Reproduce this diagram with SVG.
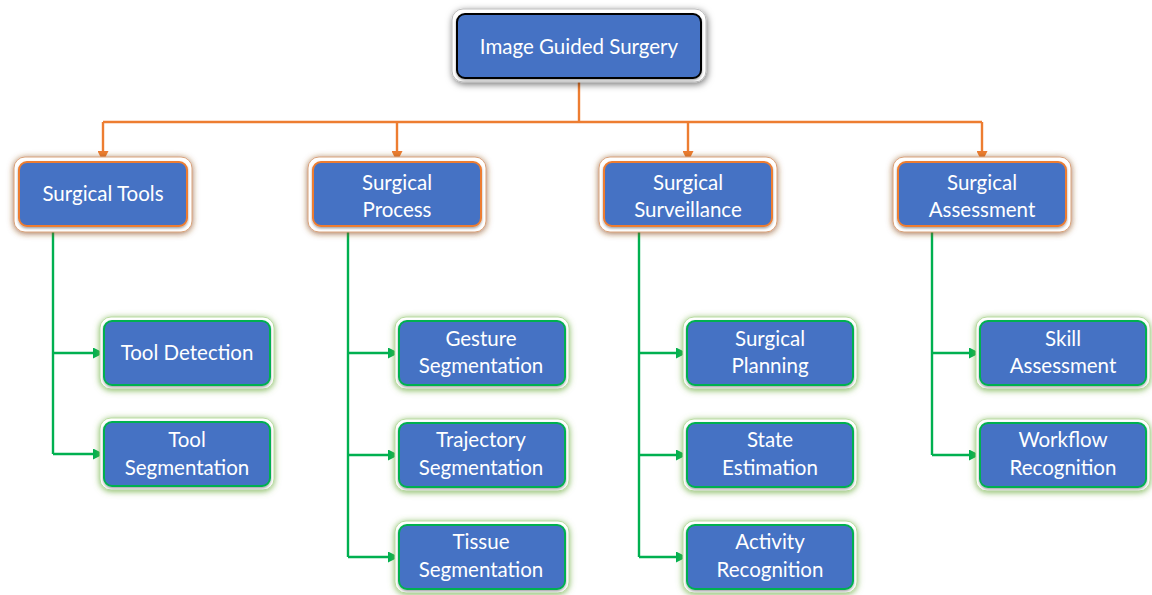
<svg xmlns="http://www.w3.org/2000/svg" width="1152" height="595" viewBox="0 0 1152 595">
  <defs>
    <filter id="shRoot" x="-20%" y="-30%" width="140%" height="160%">
      <feDropShadow dx="1" dy="2" stdDeviation="3.5" flood-color="#000" flood-opacity="0.55"/>
    </filter>
    <filter id="shMid" x="-20%" y="-30%" width="140%" height="160%">
      <feDropShadow dx="0" dy="1" stdDeviation="3" flood-color="#8a4a1f" flood-opacity="0.8"/>
    </filter>
    <filter id="shLeaf" x="-20%" y="-30%" width="140%" height="160%">
      <feDropShadow dx="0" dy="1" stdDeviation="3" flood-color="#6fae3f" flood-opacity="0.85"/>
    </filter>
    <filter id="inner" x="-10%" y="-10%" width="120%" height="130%">
      <feDropShadow dx="0" dy="1.5" stdDeviation="1.2" flood-color="#000" flood-opacity="0.35"/>
    </filter>
    <marker id="arrO" viewBox="0 0 10 10" refX="10" refY="5" markerWidth="11" markerHeight="11" markerUnits="userSpaceOnUse" orient="auto">
      <path d="M0,0 L10,5 L0,10 z" fill="#ED7D31"/>
    </marker>
    <marker id="arrG" viewBox="0 0 10 10" refX="10" refY="5" markerWidth="11" markerHeight="11" markerUnits="userSpaceOnUse" orient="auto">
      <path d="M0,0 L10,5 L0,10 z" fill="#00B050"/>
    </marker>
  </defs>
  <style>
    .frame { fill: #fff; }
    .root-in { fill: #4472C4; stroke: #000; stroke-width: 2; }
    .mid-out { stroke: #d9a27a; stroke-width: 1; }
    .mid-in { fill: #4472C4; stroke: #ED7D31; stroke-width: 2; }
    .leaf-out { stroke: #b9dca0; stroke-width: 1; }
    .leaf-in { fill: #4472C4; stroke: #00B050; stroke-width: 2; }
    text { font-family: Lato, "Open Sans", "Liberation Sans", sans-serif; font-size: 20.5px; fill: #fff; text-anchor: middle; }
    .orange { fill: none; stroke: #ED7D31; stroke-width: 2.4; }
    .green { fill: none; stroke: #00B050; stroke-width: 2.4; }
  </style>

  <!-- connectors -->
  <g id="connectors">
    <path class="orange" d="M579,80 V122 M103,122 H982"/>
    <path class="orange" d="M103,122 V162" marker-end="url(#arrO)"/>
    <path class="orange" d="M397,122 V162" marker-end="url(#arrO)"/>
    <path class="orange" d="M688,122 V162" marker-end="url(#arrO)"/>
    <path class="orange" d="M982,122 V162" marker-end="url(#arrO)"/>

    <path class="green" d="M53,230 V454"/>
    <path class="green" d="M53,353 H104" marker-end="url(#arrG)"/>
    <path class="green" d="M53,454 H104" marker-end="url(#arrG)"/>

    <path class="green" d="M348,230 V557"/>
    <path class="green" d="M348,353 H399" marker-end="url(#arrG)"/>
    <path class="green" d="M348,455 H399" marker-end="url(#arrG)"/>
    <path class="green" d="M348,557 H399" marker-end="url(#arrG)"/>

    <path class="green" d="M639,230 V557"/>
    <path class="green" d="M639,353 H687" marker-end="url(#arrG)"/>
    <path class="green" d="M639,455 H687" marker-end="url(#arrG)"/>
    <path class="green" d="M639,557 H687" marker-end="url(#arrG)"/>

    <path class="green" d="M932,230 V455"/>
    <path class="green" d="M932,353 H980" marker-end="url(#arrG)"/>
    <path class="green" d="M932,455 H980" marker-end="url(#arrG)"/>
  </g>

  <!-- root -->
  <g id="image-guided-surgery">
    <rect class="frame" x="452" y="9" width="254" height="73" rx="11" filter="url(#shRoot)" stroke="#bbb" stroke-width="1"/>
    <rect class="root-in" x="457" y="14" width="244" height="64" rx="8" filter="url(#inner)"/>
    <text x="579" y="54">Image Guided Surgery</text>
  </g>

  <!-- level 1 -->
  <g id="surgical-tools">
    <rect class="frame mid-out" x="14" y="157" width="178" height="75" rx="11" filter="url(#shMid)"/>
    <rect class="mid-in" x="19" y="162" width="168" height="64" rx="8" filter="url(#inner)"/>
    <text x="103" y="201">Surgical Tools</text>
  </g>
  <g id="surgical-process">
    <rect class="frame mid-out" x="308" y="157" width="178" height="75" rx="11" filter="url(#shMid)"/>
    <rect class="mid-in" x="313" y="162" width="168" height="64" rx="8" filter="url(#inner)"/>
    <text x="397" y="190">Surgical</text>
    <text x="397" y="217">Process</text>
  </g>
  <g id="surgical-surveillance">
    <rect class="frame mid-out" x="599" y="157" width="178" height="75" rx="11" filter="url(#shMid)"/>
    <rect class="mid-in" x="604" y="162" width="168" height="64" rx="8" filter="url(#inner)"/>
    <text x="688" y="190">Surgical</text>
    <text x="688" y="217">Surveillance</text>
  </g>
  <g id="surgical-assessment">
    <rect class="frame mid-out" x="893" y="157" width="178" height="75" rx="11" filter="url(#shMid)"/>
    <rect class="mid-in" x="898" y="162" width="168" height="64" rx="8" filter="url(#inner)"/>
    <text x="982" y="190">Surgical</text>
    <text x="982" y="217">Assessment</text>
  </g>

  <!-- level 2: tools -->
  <g id="tool-detection">
    <rect class="frame leaf-out" x="100" y="317" width="174" height="72" rx="11" filter="url(#shLeaf)"/>
    <rect class="leaf-in" x="104" y="321" width="166" height="64" rx="8" filter="url(#inner)"/>
    <text x="187" y="360">Tool Detection</text>
  </g>
  <g id="tool-segmentation">
    <rect class="frame leaf-out" x="100" y="418" width="174" height="72" rx="11" filter="url(#shLeaf)"/>
    <rect class="leaf-in" x="104" y="422" width="166" height="64" rx="8" filter="url(#inner)"/>
    <text x="187" y="447">Tool</text>
    <text x="187" y="475">Segmentation</text>
  </g>

  <!-- level 2: process -->
  <g id="gesture-segmentation">
    <rect class="frame leaf-out" x="395" y="317" width="174" height="72" rx="11" filter="url(#shLeaf)"/>
    <rect class="leaf-in" x="399" y="321" width="166" height="64" rx="8" filter="url(#inner)"/>
    <text x="481" y="346">Gesture</text>
    <text x="481" y="373">Segmentation</text>
  </g>
  <g id="trajectory-segmentation">
    <rect class="frame leaf-out" x="395" y="419" width="174" height="72" rx="11" filter="url(#shLeaf)"/>
    <rect class="leaf-in" x="399" y="423" width="166" height="64" rx="8" filter="url(#inner)"/>
    <text x="481" y="447">Trajectory</text>
    <text x="481" y="475">Segmentation</text>
  </g>
  <g id="tissue-segmentation">
    <rect class="frame leaf-out" x="395" y="521" width="174" height="72" rx="11" filter="url(#shLeaf)"/>
    <rect class="leaf-in" x="399" y="525" width="166" height="64" rx="8" filter="url(#inner)"/>
    <text x="481" y="549">Tissue</text>
    <text x="481" y="577">Segmentation</text>
  </g>

  <!-- level 2: surveillance -->
  <g id="surgical-planning">
    <rect class="frame leaf-out" x="683" y="317" width="174" height="72" rx="11" filter="url(#shLeaf)"/>
    <rect class="leaf-in" x="687" y="321" width="166" height="64" rx="8" filter="url(#inner)"/>
    <text x="770" y="346">Surgical</text>
    <text x="770" y="373">Planning</text>
  </g>
  <g id="state-estimation">
    <rect class="frame leaf-out" x="683" y="419" width="174" height="72" rx="11" filter="url(#shLeaf)"/>
    <rect class="leaf-in" x="687" y="423" width="166" height="64" rx="8" filter="url(#inner)"/>
    <text x="770" y="447">State</text>
    <text x="770" y="475">Estimation</text>
  </g>
  <g id="activity-recognition">
    <rect class="frame leaf-out" x="683" y="521" width="174" height="72" rx="11" filter="url(#shLeaf)"/>
    <rect class="leaf-in" x="687" y="525" width="166" height="64" rx="8" filter="url(#inner)"/>
    <text x="770" y="549">Activity</text>
    <text x="770" y="577">Recognition</text>
  </g>

  <!-- level 2: assessment -->
  <g id="skill-assessment">
    <rect class="frame leaf-out" x="976" y="317" width="174" height="72" rx="11" filter="url(#shLeaf)"/>
    <rect class="leaf-in" x="980" y="321" width="166" height="64" rx="8" filter="url(#inner)"/>
    <text x="1063" y="346">Skill</text>
    <text x="1063" y="373">Assessment</text>
  </g>
  <g id="workflow-recognition">
    <rect class="frame leaf-out" x="976" y="419" width="174" height="72" rx="11" filter="url(#shLeaf)"/>
    <rect class="leaf-in" x="980" y="423" width="166" height="64" rx="8" filter="url(#inner)"/>
    <text x="1063" y="447">Workflow</text>
    <text x="1063" y="475">Recognition</text>
  </g>
</svg>
